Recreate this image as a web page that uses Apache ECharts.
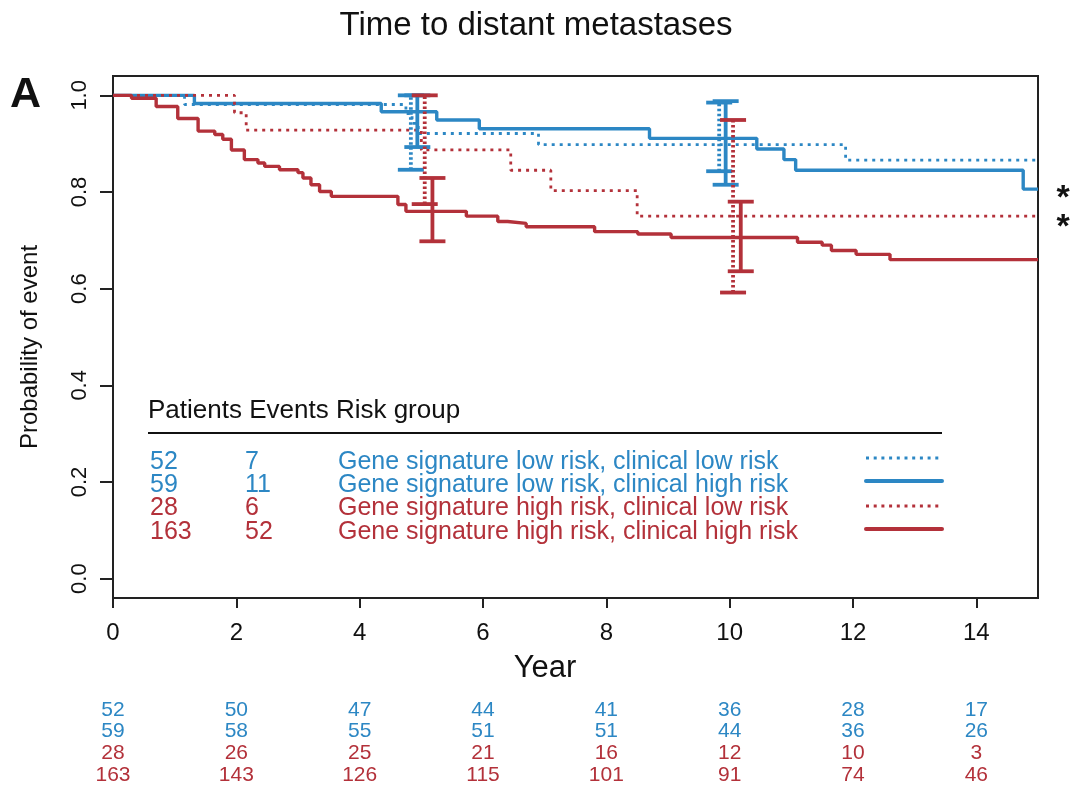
<!DOCTYPE html>
<html>
<head>
<meta charset="utf-8">
<script src="https://cdn.jsdelivr.net/npm/echarts@6/dist/echarts.min.js"></script>
<style>
  html, body { margin: 0; padding: 0; background: #fff; }
  #chart { width: 1075px; height: 789px; }
</style>
</head>
<body>
<div id="chart"></div>
<script>
// Kaplan-Meier estimates: event years and survival probability after each step
const lowLowYears   = [0, 1.16, 4.75, 4.85, 4.95, 6.90, 11.88, 15];
const lowLowProb    = [1.0, 0.981, 0.962, 0.942, 0.921, 0.898, 0.866, 0.866];

const lowHighYears  = [0, 1.32, 4.35, 5.25, 5.94, 8.70, 10.44, 10.88, 11.07, 14.76, 15];
const lowHighProb   = [1.0, 0.983, 0.966, 0.949, 0.931, 0.911, 0.889, 0.867, 0.845, 0.806, 0.806];

const highLowYears  = [0, 1.97, 2.16, 5.00, 6.45, 7.10, 8.50, 15];
const highLowProb   = [1.0, 0.964, 0.928, 0.887, 0.845, 0.803, 0.750, 0.750];

const highHighYears = [0, 0.30, 0.70, 1.05, 1.38, 1.65, 1.78, 1.92, 2.13, 2.35, 2.46, 2.70, 3.00, 3.08,
                       3.21, 3.35, 3.54, 4.62, 4.75, 5.73, 6.24, 6.40, 6.70, 7.81, 8.51, 9.05, 11.10,
                       11.50, 11.65, 12.05, 12.60, 15];
const highHighProb  = [1.0, 0.994, 0.977, 0.952, 0.926, 0.919, 0.909, 0.887, 0.867, 0.860, 0.853, 0.846, 0.840, 0.829,
                       0.815, 0.801, 0.791, 0.774, 0.760, 0.750, 0.739, 0.735, 0.728, 0.718, 0.713, 0.706, 0.696,
                       0.690, 0.679, 0.671, 0.660, 0.660];

// 95% confidence intervals [lower, upper] at 5 and 10 years
const ciYears     = [5, 10];
const lowLowCI    = [[0.846, 1.0], [0.843, 0.985]];
const lowHighCI   = [[0.893, 1.0], [0.815, 0.988]];
const highLowCI   = [[0.775, 1.0], [0.592, 0.949]];
const highHighCI  = [[0.698, 0.829], [0.636, 0.780]];

// Legend table
const groupNames = [
  'Gene signature low risk, clinical low risk',
  'Gene signature low risk, clinical high risk',
  'Gene signature high risk, clinical low risk',
  'Gene signature high risk, clinical high risk'
];
const patients = [52, 59, 28, 163];
const events   = [7, 11, 6, 52];

// Numbers at risk
const riskYears      = [0, 2, 4, 6, 8, 10, 12, 14];
const atRiskLowLow   = [52, 50, 47, 44, 41, 36, 28, 17];
const atRiskLowHigh  = [59, 58, 55, 51, 51, 44, 36, 26];
const atRiskHighLow  = [28, 26, 25, 21, 16, 12, 10, 3];
const atRiskHighHigh = [163, 143, 126, 115, 101, 91, 74, 46];

// Axis ticks
const xTicks = [0, 2, 4, 6, 8, 10, 12, 14];
const yTicks = [0, 0.2, 0.4, 0.6, 0.8, 1.0];

const BLUE = '#2c87c4';
const RED = '#b3313a';
const FONT = '"Liberation Sans", Arial, sans-serif';
const DOT = [3, 5];

const groups = [
  { years: lowLowYears,   prob: lowLowProb,   ci: lowLowCI,   color: BLUE, dotted: true,  dodge: -0.17 },
  { years: lowHighYears,  prob: lowHighProb,  ci: lowHighCI,  color: BLUE, dotted: false, dodge: -0.065 },
  { years: highLowYears,  prob: highLowProb,  ci: highLowCI,  color: RED,  dotted: true,  dodge: 0.055 },
  { years: highHighYears, prob: highHighProb, ci: highHighCI, color: RED,  dotted: false, dodge: 0.18 }
];
const atRisk = [atRiskLowLow, atRiskLowHigh, atRiskHighLow, atRiskHighHigh];

const chart = echarts.init(document.getElementById('chart'), null, { renderer: 'canvas' });

const curveSeries = groups.map(g => ({
  type: 'line',
  step: 'end',
  symbol: 'none',
  data: g.years.map((t, i) => [t, g.prob[i]]),
  lineStyle: { color: g.color, width: g.dotted ? 2.8 : 3.4, type: g.dotted ? DOT : 'solid' },
  z: 2,
  silent: true
}));

const barSeries = groups.map(g => ({
  type: 'custom',
  silent: true,
  z: 3,
  data: ciYears.map((t, i) => [t + g.dodge, g.ci[i][0], g.ci[i][1]]),
  renderItem: (params, api) => {
    const x = api.value(0);
    const lo = api.coord([x, api.value(1)]);
    const hi = api.coord([x, api.value(2)]);
    const hw = 13;
    const solid = { stroke: g.color, lineWidth: 3.8, fill: null };
    const stem = g.dotted
      ? { stroke: g.color, lineWidth: 3.8, fill: null, lineDash: [2.5, 2.5] }
      : solid;
    return {
      type: 'group',
      children: [
        { type: 'line', shape: { x1: lo[0], y1: lo[1], x2: hi[0], y2: hi[1] }, style: stem },
        { type: 'line', shape: { x1: lo[0] - hw, y1: lo[1], x2: lo[0] + hw, y2: lo[1] }, style: solid },
        { type: 'line', shape: { x1: hi[0] - hw, y1: hi[1], x2: hi[0] + hw, y2: hi[1] }, style: solid }
      ]
    };
  }
}));

chart.setOption({
  animation: false,
  grid: {
    left: 113, right: 37, top: 76, bottom: 191,
    show: true, borderColor: '#222', borderWidth: 2,
    containLabel: false, outerBoundsMode: 'none'
  },
  xAxis: {
    type: 'value', min: 0, max: 15,
    splitLine: { show: false },
    axisLine: { show: true, onZero: false, lineStyle: { color: '#222', width: 2 } },
    axisTick: { show: true, length: 10, customValues: xTicks, lineStyle: { color: '#222', width: 2 } },
    axisLabel: { customValues: xTicks, margin: 23, color: '#111', fontSize: 24, fontFamily: FONT }
  },
  yAxis: {
    type: 'value', min: -0.04, max: 1.04,
    splitLine: { show: false },
    axisLine: { show: true, onZero: false, lineStyle: { color: '#222', width: 2 } },
    axisTick: { show: true, length: 13, customValues: yTicks, lineStyle: { color: '#222', width: 2 } },
    axisLabel: {
      customValues: yTicks, rotate: 90, margin: 22, color: '#111', fontSize: 22, fontFamily: FONT,
      formatter: v => v.toFixed(1)
    }
  },
  series: curveSeries.concat(barSeries)
});

// Text, legend table and numbers-at-risk table
function buildGraphics() {
  const els = [];
  const txt = (x, y, text, opt) => els.push({
    type: 'text', x, y, silent: true,
    rotation: opt.rotation || 0,
    style: {
      text, fill: opt.color || '#111', font: `${opt.weight || 'normal'} ${opt.size}px ${FONT}`,
      align: opt.align || 'left', verticalAlign: opt.valign || 'middle'
    }
  });

  txt(536, 26, 'Time to distant metastases', { size: 33, align: 'center' });
  txt(10, 95, 'A', { size: 43, weight: 'bold' });
  txt(30, 347, 'Probability of event', { size: 24, align: 'center', rotation: Math.PI / 2 });
  txt(545, 668, 'Year', { size: 31, align: 'center' });
  txt(1063, 199, '*', { size: 34, weight: 'bold', align: 'center' });
  txt(1063, 228, '*', { size: 34, weight: 'bold', align: 'center' });

  // legend table
  txt(148, 411, 'Patients Events Risk group', { size: 26 });
  els.push({ type: 'line', silent: true, shape: { x1: 148, y1: 433, x2: 942, y2: 433 },
             style: { stroke: '#111', lineWidth: 2 } });
  const rowY = [462, 485, 508, 532];
  const sampleY = [458, 481, 506, 529];
  groups.forEach((g, i) => {
    txt(150, rowY[i], String(patients[i]), { size: 25, color: g.color });
    txt(245, rowY[i], String(events[i]), { size: 25, color: g.color });
    txt(338, rowY[i], groupNames[i], { size: 25, color: g.color });
    els.push({
      type: 'line', silent: true,
      shape: { x1: 866, y1: sampleY[i], x2: 942, y2: sampleY[i] },
      style: { stroke: g.color, lineWidth: g.dotted ? 3 : 4, lineDash: g.dotted ? [3, 4.7] : null, lineCap: g.dotted ? 'butt' : 'round' }
    });
  });

  // numbers at risk under the axis
  const riskRowY = [710, 731, 753, 775];
  atRisk.forEach((row, r) => {
    row.forEach((n, k) => {
      const px = chart.convertToPixel({ xAxisIndex: 0 }, riskYears[k]);
      txt(px, riskRowY[r], String(n), { size: 21, align: 'center', color: groups[r].color });
    });
  });
  return els;
}

chart.setOption({ graphic: { elements: buildGraphics() } });
</script>
</body>
</html>
